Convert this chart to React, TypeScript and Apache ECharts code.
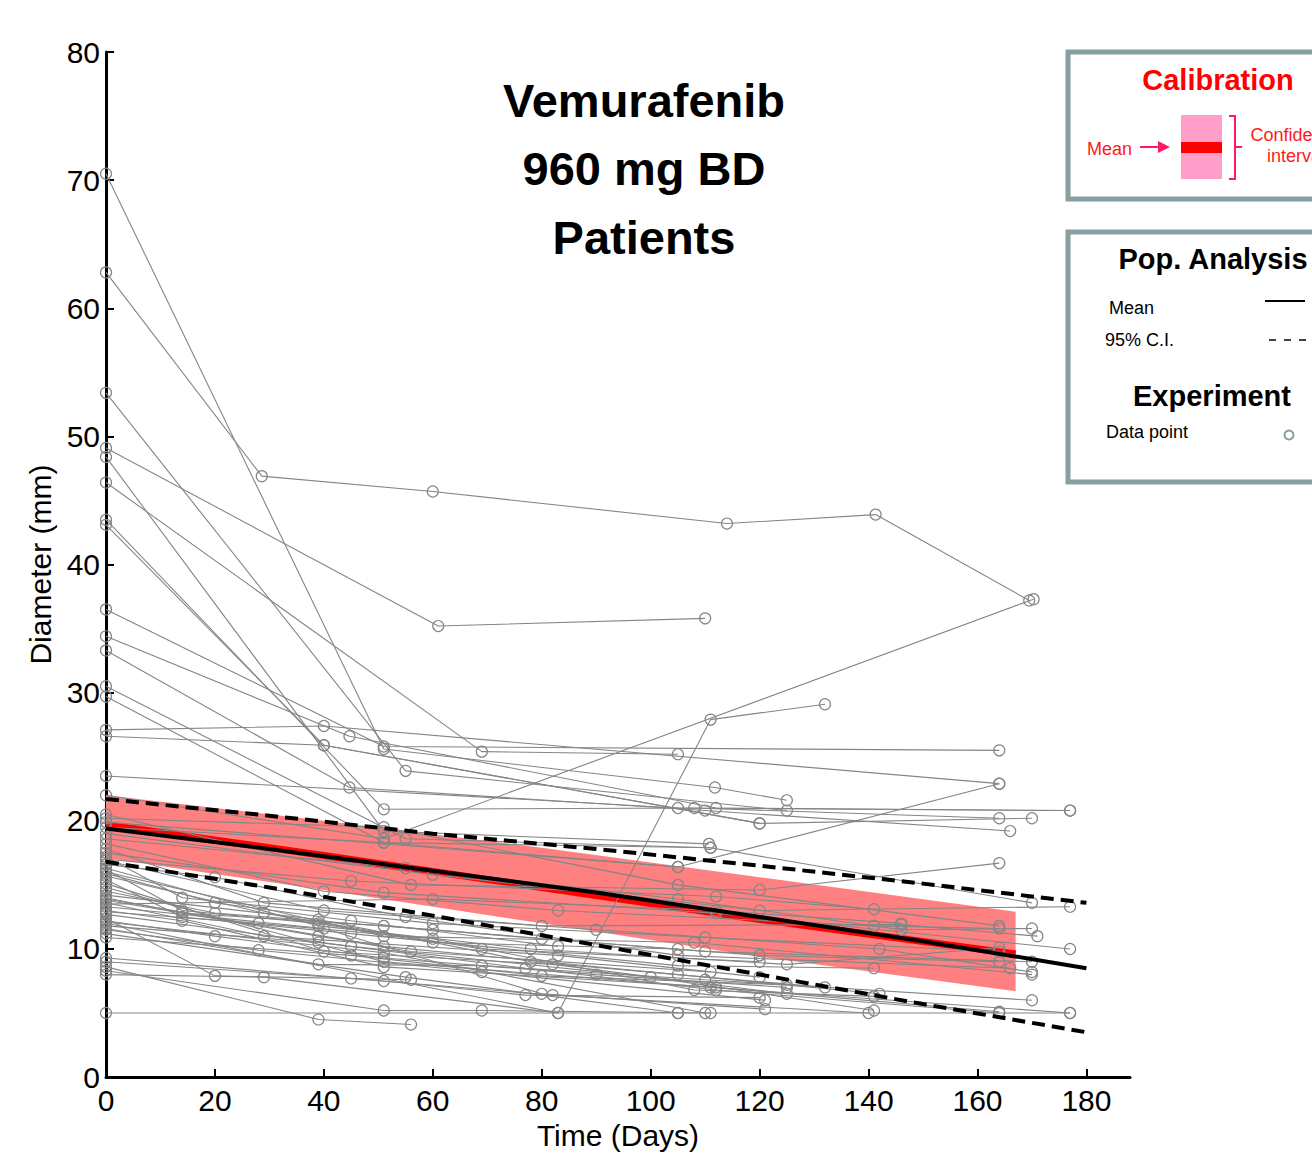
import React, { useEffect, useRef } from "react";
import * as echarts from "echarts";

// ---- axis ticks / texts ----
const xTickValues = [0, 20, 40, 60, 80, 100, 120, 140, 160, 180];
const titleLines = ["Vemurafenib", "960 mg BD", "Patients"];

// ---- population analysis (black) ----
const popDays = [0, 30, 60, 90, 120, 150, 180];
const popMean = [19.4, 17.8, 16.1, 14.4, 12.5, 10.6, 8.5];
const popUpper = [21.7, 20.4, 19.0, 17.8, 16.5, 15.1, 13.6];
const popLower = [16.8, 14.8, 12.6, 10.3, 8.0, 5.7, 3.5];

// ---- calibration (red) ----
const calibDays = [0, 40, 80, 120, 167];
const calibMean = [19.7, 17.3, 14.8, 12.3, 9.6];
const calibUpper = [22.0, 20.0, 17.9, 15.6, 12.9];
const calibLower = [17.1, 14.6, 12.0, 9.4, 6.7];

// ---- patients: [day, diameter] ----
const upperPatients: number[][][] = [
  [[0, 70.5], [51, 25.6], [111.8, 22.6], [125, 21.6]],
  [[0, 62.8], [28.6, 46.9], [60, 45.7], [114, 43.2], [141.3, 43.9], [169.5, 37.2]],
  [[0, 53.4], [55, 23.9], [125, 20.8]],
  [[0, 49.1], [61, 35.2], [110, 35.8]],
  [[0, 48.4], [51, 19.2], [110.7, 18.2]],
  [[0, 46.4], [69, 25.4], [105, 25.2]],
  [[0, 43.5], [51, 20.9], [108, 21.0], [164, 20.2]],
  [[0, 43.1], [40, 25.9], [120, 19.8], [170, 20.2]],
  [[0, 36.5], [51, 25.8], [164, 25.5]],
  [[0, 34.4], [44.7, 26.6], [112, 21.0], [177, 20.8]],
  [[0, 33.3], [44.7, 22.6], [110, 20.8], [166, 19.2]],
  [[0, 30.5], [55, 18.6], [111, 17.9]],
  [[0, 29.7], [51, 18.3], [105, 16.4]],
  [[0, 27.1], [40, 27.4], [164, 22.9]],
  [[0, 26.6], [40, 25.9], [120, 19.8]],
  [[0, 23.5], [105, 21.0], [177, 20.8]],
  [[0, 22.0], [51, 18.6], [170.3, 37.3]],
  [[0, 12.0], [83, 5.0], [111, 27.9], [132, 29.1]],
  [[0, 20.5], [56, 15.0], [120, 14.6], [164, 16.7]],
  [[0, 19.9], [105, 16.4], [164, 22.9]],
];

const midPatients: number[][][] = [
  [[0, 19.5], [51, 18.3], [111, 17.9], [170, 13.6]],
  [[0, 19.0], [60, 15.8], [120, 13.0], [177, 13.3]],
  [[0, 18.6], [55, 16.3], [105, 13.9], [146, 11.5], [170, 11.6]],
  [[0, 18.2], [40, 14.5], [83, 13.0], [141, 11.8], [164, 11.6]],
  [[0, 17.8], [29, 13.6], [80, 11.8], [146, 11.9], [171, 11.0]],
  [[0, 17.5], [51, 14.4], [112, 12.8], [177, 10.0]],
  [[0, 17.2], [14, 14.0], [60, 12.0], [110, 10.9], [164, 9.8]],
  [[0, 16.9], [40, 13.0], [90, 11.5], [142, 10.0], [170, 8.2]],
  [[0, 16.6], [20, 15.6], [55, 12.5], [105, 9.5], [166, 8.5]],
  [[0, 16.3], [39, 11.8], [78, 10.0], [125, 8.8], [164, 10.1]],
  [[0, 16.0], [51, 11.0], [108, 10.5], [170, 8.0]],
  [[0, 15.7], [29, 12.8], [69, 10.0], [120, 9.0]],
  [[0, 15.4], [14, 12.5], [45, 11.2], [105, 8.7], [141, 8.5]],
  [[0, 17.0], [45, 15.3], [112, 14.1], [141, 13.1]],
  [[0, 20.2], [51, 19.5], [105, 15.0], [164, 11.8]],
  [[0, 13.5], [60, 13.9], [112, 13.0], [146, 12.0]],
  [[0, 16.2], [14, 13.0], [39, 12.0], [60, 10.5], [105, 10.0]],
  [[0, 15.9], [20, 13.6], [45, 12.2], [83, 10.2]],
];

const lowerPatients: number[][][] = [
  [[0, 15.1], [40, 9.8], [82, 8.8], [125, 6.5]],
  [[0, 14.8], [51, 9.0], [111, 7.0], [177, 5.0]],
  [[0, 14.5], [20, 12.8], [60, 11.5], [110, 9.8], [170, 9.0]],
  [[0, 14.2], [39, 12.3], [78, 9.0], [132, 7.0]],
  [[0, 13.9], [51, 10.2], [105, 8.0], [142, 6.5]],
  [[0, 13.6], [29, 11.0], [83, 9.5], [120, 7.8]],
  [[0, 13.3], [40, 11.6], [80, 6.5], [121, 5.3]],
  [[0, 13.0], [14, 12.2], [51, 8.6], [112, 7.0], [164, 5.1]],
  [[0, 12.7], [45, 10.2], [100, 7.8], [141, 5.2]],
  [[0, 12.4], [20, 7.9], [56, 7.6]],
  [[0, 12.1], [51, 9.7], [110, 5.0]],
  [[0, 11.8], [39, 10.5], [77, 8.5], [112, 6.8], [164, 5.0]],
  [[0, 11.5], [28, 9.9], [69, 8.2], [121, 6.0]],
  [[0, 11.2], [55, 7.8], [105, 5.0]],
  [[0, 9.3], [51, 7.5], [77, 6.4], [120, 6.2]],
  [[0, 9.0], [45, 7.7], [82, 6.4], [140, 5.0]],
  [[0, 8.6], [39, 4.5], [56, 4.1]],
  [[0, 8.3], [51, 5.2], [69, 5.2], [111, 5.0]],
  [[0, 8.0], [29, 7.8], [83, 5.0]],
  [[0, 5.0], [105, 5.0], [177, 5.0]],
  [[0, 14.0], [14, 12.8], [51, 11.8], [80, 10.8], [120, 9.5], [164, 9.0]],
  [[0, 13.8], [39, 11.0], [56, 9.8], [111, 8.2]],
  [[0, 12.9], [28, 12.0], [60, 10.8], [108, 6.8], [141, 6.3]],
  [[0, 12.2], [20, 11.0], [51, 9.3], [90, 8.0], [125, 7.0]],
  [[0, 11.6], [39, 8.8], [69, 8.7], [110, 7.6], [170, 6.0]],
  [[0, 10.9], [45, 9.5], [80, 7.9], [125, 7.2]],
];

const FONT = '"Liberation Sans", Arial, Helvetica, sans-serif';
const GREY = "#858585";
const BOX = "#86a0a0";

function zip(days: number[], vals: number[]) {
  return days.map((d, i) => [d, vals[i]]);
}

export default function App() {
  const ref = useRef<HTMLDivElement>(null);

  useEffect(() => {
    document.body.style.margin = "0";
    if (!ref.current) return;
    const chart = echarts.init(ref.current, null, { renderer: "svg" });

    const patientSeries = [...upperPatients, ...midPatients, ...lowerPatients].map((p) => ({
      type: "line",
      data: p,
      silent: true,
      showSymbol: true,
      showAllSymbol: true,
      symbol: "circle",
      symbolSize: 11,
      lineStyle: { color: GREY, width: 1.1 },
      itemStyle: { color: "rgba(0,0,0,0)", borderColor: GREY, borderWidth: 1.2 },
      z: 4,
    }));

    const legendText = (text: string, x: number, y: number, opts: any = {}) => ({
      type: "text",
      x,
      y,
      style: {
        text,
        font: opts.font || `18px ${FONT}`,
        fill: opts.fill || "#000",
        textAlign: opts.align || "left",
        textVerticalAlign: "middle",
      },
    });

    const graphics: any[] = [
      ...titleLines.map((t, i) => ({
        type: "text",
        x: 644,
        y: 100 + i * 68.5,
        style: {
          text: t,
          font: `bold 47px ${FONT}`,
          fill: "#000",
          textAlign: "center",
          textVerticalAlign: "middle",
        },
      })),
      // Calibration box
      {
        type: "rect",
        shape: { x: 1068, y: 52, width: 320, height: 147 },
        style: { fill: "#fff", stroke: BOX, lineWidth: 5 },
      },
      legendText("Calibration", 1218, 80, { font: `bold 29px ${FONT}`, fill: "#ff0000", align: "center" }),
      legendText("Mean", 1087, 149, { fill: "#ff1a1a" }),
      {
        type: "line",
        shape: { x1: 1140, y1: 147, x2: 1160, y2: 147 },
        style: { stroke: "#ff1a66", lineWidth: 2 },
      },
      {
        type: "polygon",
        shape: { points: [[1158, 141], [1170, 147], [1158, 153]] },
        style: { fill: "#ff1a66" },
      },
      {
        type: "rect",
        shape: { x: 1181, y: 115, width: 41, height: 64 },
        style: { fill: "#ff9ec8" },
      },
      {
        type: "rect",
        shape: { x: 1181, y: 142, width: 41, height: 11 },
        style: { fill: "#ff0000" },
        z: 102,
      },
      {
        type: "polyline",
        shape: { points: [[1229, 116], [1235, 116], [1235, 147], [1242, 147], [1235, 147], [1235, 179], [1229, 179]] },
        style: { stroke: "#ff1a66", lineWidth: 2, fill: "none" },
      },
      legendText("Confidence", 1296, 135, { fill: "#ff1a1a", align: "center" }),
      legendText("interval", 1296, 156, { fill: "#ff1a1a", align: "center" }),
      // Pop analysis / experiment box
      {
        type: "rect",
        shape: { x: 1068, y: 232, width: 320, height: 250 },
        style: { fill: "#fff", stroke: BOX, lineWidth: 5 },
      },
      legendText("Pop. Analysis", 1213, 259, { font: `bold 29px ${FONT}`, align: "center" }),
      legendText("Mean", 1109, 308),
      {
        type: "line",
        shape: { x1: 1265, y1: 301, x2: 1305, y2: 301 },
        style: { stroke: "#000", lineWidth: 2 },
      },
      legendText("95% C.I.", 1105, 340),
      {
        type: "line",
        shape: { x1: 1269, y1: 340, x2: 1306, y2: 340 },
        style: { stroke: "#000", lineWidth: 1.5, lineDash: [7, 8] },
      },
      legendText("Experiment", 1212, 396, { font: `bold 29px ${FONT}`, align: "center" }),
      legendText("Data point", 1106, 432),
      {
        type: "circle",
        shape: { cx: 1289, cy: 435, r: 4.5 },
        style: { fill: "none", stroke: BOX, lineWidth: 2 },
      },
    ].map((g: any) => ({ z: 101, ...g }));

    chart.setOption({
      animation: false,
      backgroundColor: "#fff",
      grid: { left: 106, top: 52, width: 1024, height: 1031, containLabel: false },
      xAxis: {
        type: "value",
        min: 0,
        max: 188,
        name: "Time (Days)",
        nameLocation: "middle",
        nameGap: 40,
        nameTextStyle: { fontSize: 30, color: "#000", fontFamily: FONT },
        axisLine: { show: true, onZero: false, lineStyle: { color: "#000", width: 3 } },
        axisTick: { show: true, inside: true, length: 8, customValues: xTickValues, lineStyle: { color: "#000", width: 2 } },
        axisLabel: { show: true, customValues: xTickValues, fontSize: 30, color: "#000", fontFamily: FONT, margin: 8 },
        splitLine: { show: false },
      },
      yAxis: {
        type: "value",
        min: 0,
        max: 80,
        interval: 10,
        name: "Diameter (mm)",
        nameLocation: "middle",
        nameGap: 50,
        nameTextStyle: { fontSize: 30, color: "#000", fontFamily: FONT },
        axisLine: { show: true, onZero: false, lineStyle: { color: "#000", width: 3 } },
        axisTick: { show: true, inside: true, length: 8, lineStyle: { color: "#000", width: 2 } },
        axisLabel: { fontSize: 30, color: "#000", fontFamily: FONT, margin: 6 },
        splitLine: { show: false },
      },
      graphic: graphics,
      series: [
        {
          type: "custom",
          silent: true,
          data: [[0, 0]],
          z: 1,
          renderItem: (_params: any, api: any) => {
            const top = calibDays.map((d, i) => api.coord([d, calibUpper[i]]));
            const bottom = calibDays.map((d, i) => api.coord([d, calibLower[i]])).reverse();
            return {
              type: "polygon",
              shape: { points: [...top, ...bottom] },
              style: { fill: "#ff8080" },
            };
          },
        },
        {
          type: "line",
          data: zip(calibDays, calibMean),
          symbol: "none",
          silent: true,
          lineStyle: { color: "#ff0000", width: 7 },
          z: 2,
        },
        ...patientSeries,
        {
          type: "line",
          data: zip(popDays, popMean),
          symbol: "none",
          silent: true,
          lineStyle: { color: "#000", width: 4 },
          z: 6,
        },
        {
          type: "line",
          data: zip(popDays, popUpper),
          symbol: "none",
          silent: true,
          lineStyle: { color: "#000", width: 4, type: [13, 7] },
          z: 6,
        },
        {
          type: "line",
          data: zip(popDays, popLower),
          symbol: "none",
          silent: true,
          lineStyle: { color: "#000", width: 4, type: [13, 7] },
          z: 6,
        },
      ],
    });

    return () => chart.dispose();
  }, []);

  return <div ref={ref} style={{ width: 1312, height: 1155 }} />;
}
